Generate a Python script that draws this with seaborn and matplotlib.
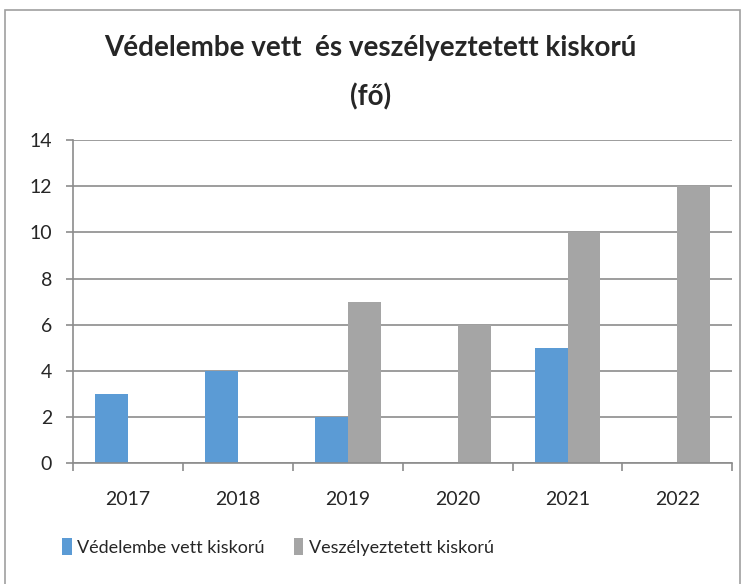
import pandas as pd
import matplotlib.pyplot as plt
import seaborn as sns
from matplotlib.patches import Rectangle
from matplotlib.ticker import FixedLocator

# Data
years = ['2017', '2018', '2019', '2020', '2021', '2022']
vedelembe = [3, 4, 2, 0, 5, 0]
veszelyeztetett = [0, 0, 7, 6, 10, 12]
series_names = ['Védelembe vett kiskorú', 'Veszélyeztetett kiskorú']
colors = ['#5B9BD5', '#A5A5A5']

data = pd.DataFrame({
    'year': years * 2,
    'value': vedelembe + veszelyeztetett,
    'series': [series_names[0]] * len(years) + [series_names[1]] * len(years),
})

sns.set_style('white')
plt.rcParams['font.family'] = ['Lato', 'DejaVu Sans']

fig = plt.figure(figsize=(7.45, 5.84), dpi=100)
ax = fig.add_axes([0.098, 0.207, 0.885, 0.553])

sns.barplot(data=data, x='year', y='value', hue='series', palette=colors,
            width=0.6, saturation=1, linewidth=0, ax=ax, legend=True)

ax.set_ylim(0, 14)
ax.set_xlim(-0.5, 5.5)
ax.set_yticks(range(0, 15, 2))
ax.yaxis.grid(True, color='#8C8C8C', linewidth=1.2)
ax.set_axisbelow(True)
ax.set_xlabel('')
ax.set_ylabel('')

for side in ['top', 'right']:
    ax.spines[side].set_visible(False)
for side in ['left', 'bottom']:
    ax.spines[side].set_color('#8C8C8C')
    ax.spines[side].set_linewidth(1.2)

ax.tick_params(axis='y', which='major', length=5, width=1.2, color='#8C8C8C',
               labelsize=14, pad=10, left=True)
ax.tick_params(axis='x', which='major', length=0, labelsize=14, pad=20)
ax.xaxis.set_minor_locator(FixedLocator([i - 0.5 for i in range(len(years) + 1)]))
ax.tick_params(axis='x', which='minor', length=6, width=1.2, color='#8C8C8C', bottom=True)

# title centred on the whole chart, as in the source
fig.text(0.497, 1 - 48 / 584, 'Védelembe vett  és veszélyeztetett kiskorú',
         ha='center', va='center', fontsize=20, fontweight='bold')
fig.text(0.497, 1 - 97 / 584, '(fő)',
         ha='center', va='center', fontsize=20, fontweight='bold')

ax.legend(loc='center left', bbox_to_anchor=(-0.017, -0.26), ncol=2, frameon=False,
          fontsize=13, handlelength=0.55, handleheight=1.0, handletextpad=0.3,
          columnspacing=1.6, borderpad=0, borderaxespad=0)

fig.patches.append(Rectangle((5 / 745, -0.05), 735 / 745, 1.05 - 10 / 584,
                             transform=fig.transFigure, fill=False,
                             edgecolor='#A0A0A0', linewidth=1.2))

fig.savefig('out.png', dpi=100)
